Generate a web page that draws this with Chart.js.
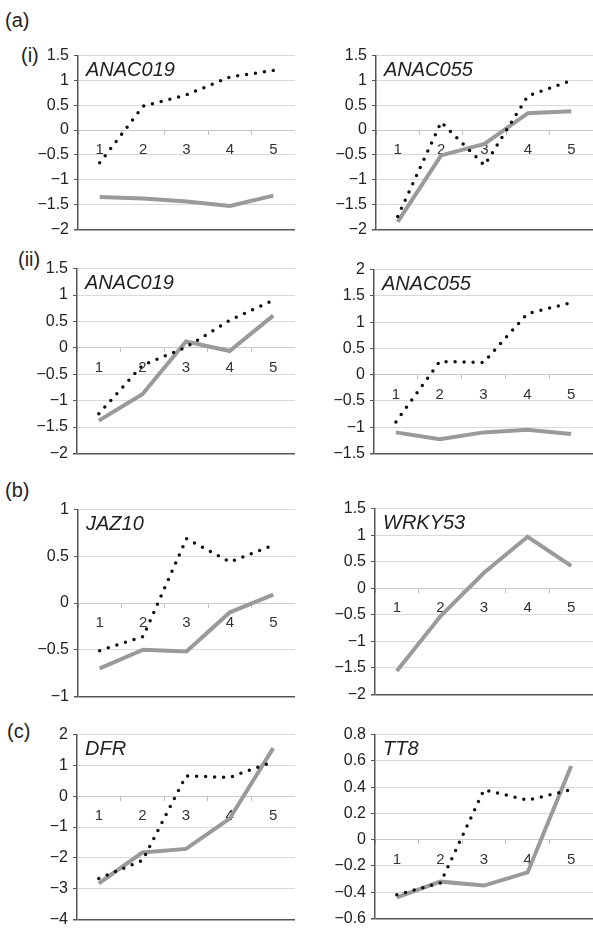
<!DOCTYPE html>
<html>
<head>
<meta charset="utf-8">
<script src="https://cdn.jsdelivr.net/npm/chart.js@4.4.1/dist/chart.umd.min.js"></script>
<style>
  body { margin: 0; background: #fff; width: 593px; height: 931px; position: relative; overflow: hidden; }
  canvas { position: absolute; }
  .tag { position: absolute; font: 20px "Liberation Sans", Arial, sans-serif; line-height: 1; color: #222; }
</style>
</head>
<body>
<div class="tag" style="left:5px;top:10px">(a)</div>
<div class="tag" style="left:21px;top:45px">(i)</div>
<div class="tag" style="left:18px;top:249px">(ii)</div>
<div class="tag" style="left:5px;top:480px">(b)</div>
<div class="tag" style="left:7px;top:721px">(c)</div>

<script>
// x categories (time points)
const days = ['1', '2', '3', '4', '5'];

// (a)(i)
const anac019_i_dotted = [-0.66, 0.48, 0.71, 1.07, 1.2];
const anac019_i_solid = [-1.35, -1.38, -1.44, -1.53, -1.32];
const anac055_i_dotted = [-1.74, 0.16, -0.71, 0.69, 1.0];
const anac055_i_solid = [-1.85, -0.51, -0.28, 0.34, 0.38];

// (a)(ii)
const anac019_ii_dotted = [-1.25, -0.33, 0.01, 0.52, 0.9];
const anac019_ii_solid = [-1.38, -0.88, 0.12, -0.06, 0.61];
const anac055_ii_dotted = [-0.9, 0.25, 0.23, 1.16, 1.37];
const anac055_ii_solid = [-1.1, -1.23, -1.1, -1.05, -1.13];

// (b)
const jaz10_dotted = [-0.51, -0.36, 0.69, 0.44, 0.62];
const jaz10_solid = [-0.7, -0.5, -0.52, -0.1, 0.09];
const wrky53_solid = [-1.56, -0.53, 0.29, 0.97, 0.42];

// (c)
const dfr_dotted = [-2.67, -2.09, 0.66, 0.61, 1.12];
const dfr_solid = [-2.83, -1.83, -1.71, -0.73, 1.56];
const tt8_dotted = [-0.42, -0.33, 0.38, 0.3, 0.38];
const tt8_solid = [-0.44, -0.32, -0.35, -0.25, 0.56];

// panel layout: axis x, right edge, plot top/bottom, y range
const panels = [
  { gene: 'ANAC019', dotted: anac019_i_dotted, solid: anac019_i_solid, x: 78, r: 295, top: 53, bottom: 232, min: -2, max: 1.5, step: 0.5 },
  { gene: 'ANAC055', dotted: anac055_i_dotted, solid: anac055_i_solid, x: 376, r: 593, top: 53, bottom: 232, min: -2, max: 1.5, step: 0.5 },
  { gene: 'ANAC019', dotted: anac019_ii_dotted, solid: anac019_ii_solid, x: 77, r: 295, top: 266, bottom: 456, min: -2, max: 1.5, step: 0.5 },
  { gene: 'ANAC055', dotted: anac055_ii_dotted, solid: anac055_ii_solid, x: 374, r: 593, top: 267, bottom: 456, min: -1.5, max: 2, step: 0.5 },
  { gene: 'JAZ10', dotted: jaz10_dotted, solid: jaz10_solid, x: 78, r: 295, top: 507, bottom: 699, min: -1, max: 1, step: 0.5 },
  { gene: 'WRKY53', dotted: null, solid: wrky53_solid, x: 375, r: 593, top: 506, bottom: 697, min: -2, max: 1.5, step: 0.5 },
  { gene: 'DFR', dotted: dfr_dotted, solid: dfr_solid, x: 77, r: 295, top: 732, bottom: 922, min: -4, max: 2, step: 1 },
  { gene: 'TT8', dotted: tt8_dotted, solid: tt8_solid, x: 375, r: 593, top: 732, bottom: 921, min: -0.6, max: 0.8, step: 0.2 }
];

const AXIS_W = 60;
const PAD = 12;

// gene name written in the top-left corner of each plot
const geneLabel = {
  id: 'geneLabel',
  afterDraw(chart, args, opts) {
    const { ctx, chartArea } = chart;
    ctx.save();
    ctx.font = 'italic 20px "Liberation Sans", Arial, sans-serif';
    ctx.fillStyle = '#222';
    ctx.textBaseline = 'alphabetic';
    ctx.fillText(opts.text, chartArea.left + 8, chartArea.top + 20);
    ctx.restore();
  }
};

panels.forEach(function(p) {
  const canvas = document.createElement('canvas');
  const w = p.r - p.x + AXIS_W;
  const h = p.bottom - p.top + PAD * 2;
  canvas.width = w;
  canvas.height = h;
  canvas.style.left = (p.x - AXIS_W) + 'px';
  canvas.style.top = (p.top - PAD) + 'px';
  canvas.style.width = w + 'px';
  canvas.style.height = h + 'px';
  document.body.appendChild(canvas);

  const datasets = [];
  if (p.dotted) {
    datasets.push({
      data: p.dotted,
      borderColor: '#111',
      borderWidth: 3.5,
      borderDash: [0, 9],
      borderCapStyle: 'round',
      pointRadius: 0,
      tension: 0
    });
  }
  datasets.push({
    data: p.solid,
    borderColor: '#9a9a9a',
    borderWidth: 4,
    pointRadius: 0,
    tension: 0
  });

  new Chart(canvas.getContext('2d'), {
    type: 'line',
    data: { labels: days, datasets: datasets },
    options: {
      responsive: false,
      animation: false,
      layout: { padding: { top: PAD, bottom: PAD, left: 0, right: 0 } },
      plugins: {
        legend: { display: false },
        tooltip: { enabled: false },
        geneLabel: { text: p.gene }
      },
      scales: {
        x: {
          type: 'category',
          position: { y: 0 },
          offset: true,
          grid: { offset: true, drawOnChartArea: false, tickLength: 4, color: '#bdbdbd' },
          border: { display: true, color: '#c8c8c8', width: 1 },
          ticks: {
            padding: 7,
            color: '#333',
            font: { family: '"Liberation Sans", Arial, sans-serif', size: 15 }
          }
        },
        y: {
          min: p.min,
          max: p.max,
          afterFit: function(axis) { axis.width = AXIS_W; },
          grid: {
            color: function(c) { return Math.abs(c.tick.value - p.min) < 1e-6 ? '#555' : '#d9d9d9'; },
            lineWidth: function(c) { return Math.abs(c.tick.value - p.min) < 1e-6 ? 1.5 : 1; },
            tickColor: '#555',
            tickLength: 4
          },
          border: { color: '#555', width: 1.5 },
          ticks: {
            stepSize: p.step,
            padding: 5,
            color: '#222',
            font: { family: '"Liberation Sans", Arial, sans-serif', size: 16 },
            callback: function(v) { return String(+v.toFixed(1)).replace('-', '\u2212'); }
          }
        }
      }
    },
    plugins: [geneLabel]
  });
});
</script>
</body>
</html>
